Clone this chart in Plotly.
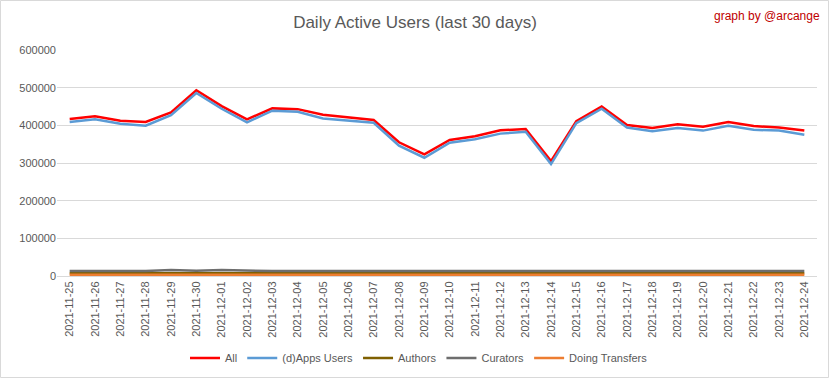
import plotly.graph_objects as go

dates = ["2021-11-25","2021-11-26","2021-11-27","2021-11-28","2021-11-29","2021-11-30",
         "2021-12-01","2021-12-02","2021-12-03","2021-12-04","2021-12-05","2021-12-06",
         "2021-12-07","2021-12-08","2021-12-09","2021-12-10","2021-12-11","2021-12-12",
         "2021-12-13","2021-12-14","2021-12-15","2021-12-16","2021-12-17","2021-12-18",
         "2021-12-19","2021-12-20","2021-12-21","2021-12-22","2021-12-23","2021-12-24"]

all_users = [417000, 424000, 412000, 409000, 434000, 493000, 451000, 416000, 445000, 443000,
             428000, 421000, 414000, 355000, 323000, 361000, 371000, 387000, 390000, 305000,
             411000, 450000, 401000, 393000, 403000, 396000, 409000, 398000, 394000, 386000]
dapps_users = [409000, 416000, 404000, 399000, 427000, 486000, 444000, 408000, 439000, 436000,
               418000, 412000, 407000, 346000, 314000, 354000, 363000, 378000, 383000, 297000,
               406000, 444000, 394000, 384000, 393000, 386000, 399000, 388000, 386000, 375000]
authors = [7500]*30
curators = [13000, 13000, 13000, 13000, 16000, 14000, 16000, 13500, 13000, 13000,
            13000, 13000, 13000, 13000, 13000, 13000, 13000, 13000, 13000, 13000,
            13000, 13000, 13000, 13000, 13000, 13000, 13000, 13000, 13000, 13000]
transfers = [3500, 3500, 3500, 3500, 3500, 3500, 3500, 3500, 3500, 3500,
             3500, 3500, 4000, 4500, 3500, 3500, 3500, 3500, 3500, 3500,
             3500, 3500, 3500, 3500, 3500, 3500, 3500, 3500, 3500, 3500]
y_ticks = [0, 100000, 200000, 300000, 400000, 500000, 600000]

FONT = "Liberation Sans, Arial, sans-serif"
TXT = "#595959"

fig = go.Figure()
series = [
    ("All", all_users, "#FF0000"),
    ("(d)Apps Users", dapps_users, "#5B9BD5"),
    ("Authors", authors, "#7F6000"),
    ("Curators", curators, "#6E6E6E"),
    ("Doing Transfers", transfers, "#ED7D31"),
]
for name, vals, col in series:
    fig.add_trace(go.Scatter(x=dates, y=vals, name=name, mode="lines",
                             line=dict(color=col, width=2.5)))

W, H = 833, 379
ml, mr, mt, mb = 57, 16, 50, 103
pw, ph = W - ml - mr, H - mt - mb

fig.update_layout(
    width=W, height=H,
    margin=dict(l=ml, r=mr, t=mt, b=mb, autoexpand=False),
    paper_bgcolor="white", plot_bgcolor="white",
    font=dict(family=FONT, color=TXT, size=11),
    title=dict(text="Daily Active Users (last 30 days)", x=415 / W, xanchor="center",
               y=1 - 22 / H, yanchor="middle",
               font=dict(family=FONT, size=17, color=TXT)),
    showlegend=True,
    legend=dict(orientation="h", x=(419 - ml) / pw, xanchor="center",
                y=-(358 - (mt + ph)) / ph, yanchor="middle",
                font=dict(family=FONT, size=11, color=TXT),
                itemwidth=30, bgcolor="rgba(0,0,0,0)"),
    xaxis=dict(type="category", range=[-0.5, 29.5], tickangle=-90,
               showgrid=False, showline=True, linecolor="#D9D9D9", linewidth=1,
               ticks="", automargin=False, tickfont=dict(family=FONT, size=11, color=TXT)),
    yaxis=dict(range=[0, 600000], tickvals=y_ticks, ticktext=[str(v) for v in y_ticks],
               showgrid=True, gridcolor="#D9D9D9", gridwidth=1, zeroline=False,
               showline=False, ticks="", automargin=False,
               tickfont=dict(family=FONT, size=11, color=TXT)),
    annotations=[dict(text="graph by @arcange", xref="paper", yref="paper",
                      x=(822 - ml) / pw, xanchor="right",
                      y=1 + (mt - 16) / ph, yanchor="middle", showarrow=False,
                      font=dict(family=FONT, size=12, color="#C00000"))],
    shapes=[dict(type="rect", xref="paper", yref="paper",
                 x0=-(ml - 0.5) / pw, x1=1 + (mr - 4.5) / pw,
                 y0=-(mb - 1.5) / ph, y1=1 + (mt - 0.5) / ph,
                 line=dict(color="#D9D9D9", width=1), fillcolor="rgba(0,0,0,0)", layer="below")],
)

fig.write_html("out.html", config={"displayModeBar": False},
               post_script="document.body.style.margin='0';document.body.style.overflow='hidden';")
